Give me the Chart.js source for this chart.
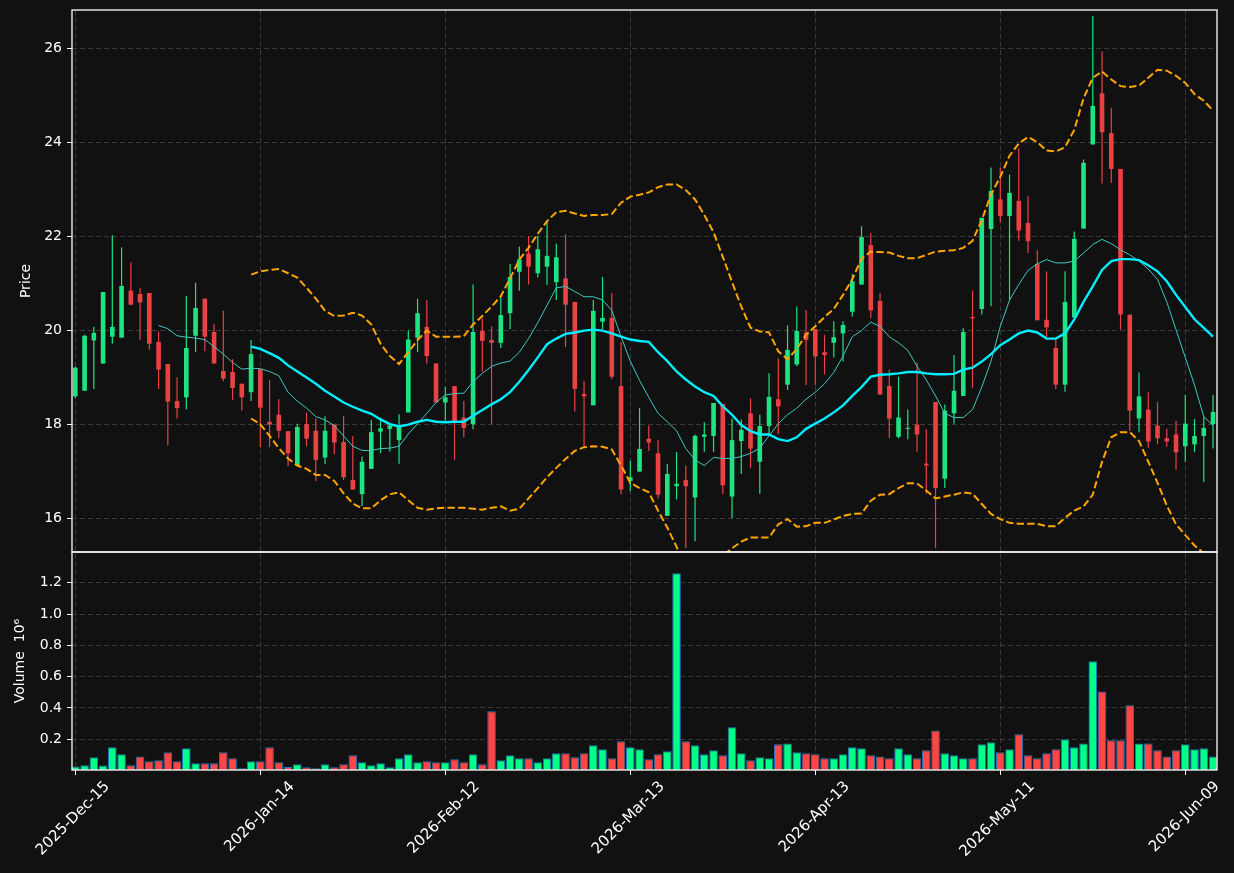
<!DOCTYPE html>
<html>
<head>
<meta charset="utf-8">
<script src="https://cdn.jsdelivr.net/npm/chart.js@4.4.1/dist/chart.umd.min.js"></script>
<style>
  html, body { margin: 0; background: #111111; }
  #wrap { width: 1234px; height: 873px; position: relative; }
</style>
</head>
<body>
<div id="wrap"><canvas id="chart"></canvas></div>
<script>
// tick labels on the date axis (trading-day index -> label)
const tickIdx = [0, 20, 40, 60, 80, 100, 120];
const tickLabels = ['2025-Dec-15', '2026-Jan-14', '2026-Feb-12', '2026-Mar-13', '2026-Apr-13', '2026-May-11', '2026-Jun-09'];
const priceTicks = [16, 18, 20, 22, 24, 26];
const volumeTicks = [0.2, 0.4, 0.6, 0.8, 1.0, 1.2];

// OHLC, one value per trading day (124 days)
const opens = [18.59, 18.71, 19.78, 19.29, 19.86, 19.84, 20.84, 20.77, 20.79, 19.75,
  19.28, 18.49, 18.57, 19.88, 20.67, 19.96, 19.13, 19.11, 18.86, 18.68,
  19.17, 18.05, 18.20, 17.85, 17.12, 18.00, 17.86, 17.29, 17.99, 17.62,
  16.81, 16.51, 17.05, 17.84, 17.90, 17.66, 18.25, 19.84, 20.07, 19.29,
  18.46, 18.81, 18.14, 18.00, 19.98, 19.79, 19.73, 20.36, 21.24, 21.63,
  21.21, 21.35, 21.02, 21.10, 20.60, 18.64, 18.40, 20.18, 20.26, 18.81,
  16.79, 16.99, 17.69, 17.38, 16.05, 16.68, 16.81, 16.44, 17.73, 17.75,
  18.43, 16.46, 17.64, 18.23, 17.20, 17.96, 18.53, 18.84, 19.27, 19.95,
  20.02, 19.53, 19.73, 19.93, 20.39, 20.97, 21.81, 20.62, 18.81, 17.73,
  17.90, 17.99, 17.16, 18.47, 16.84, 18.23, 18.60, 20.28, 20.45, 22.15,
  22.78, 22.43, 22.75, 22.28, 21.41, 20.22, 19.62, 18.84, 20.27, 22.16,
  23.95, 25.04, 24.19, 23.43, 20.33, 18.12, 18.31, 17.97, 17.70, 17.78,
  17.53, 17.57, 17.75, 18.00];
const highs = [19.22, 19.90, 20.07, 20.81, 22.02, 21.76, 21.44, 20.89, 20.79, 19.97,
  19.28, 19.00, 20.73, 21.01, 20.67, 20.13, 20.41, 19.38, 18.86, 19.79,
  19.17, 18.94, 18.53, 17.85, 18.01, 18.25, 18.12, 18.17, 18.01, 18.17,
  17.75, 17.31, 18.09, 18.14, 18.01, 18.21, 19.99, 20.67, 20.64, 19.29,
  18.79, 18.81, 18.49, 20.97, 20.25, 20.08, 20.73, 21.41, 21.78, 22.00,
  22.01, 22.30, 21.84, 22.04, 20.60, 18.92, 20.64, 21.13, 20.79, 19.75,
  17.22, 18.34, 17.97, 17.66, 17.16, 17.41, 17.12, 17.78, 18.04, 18.45,
  18.43, 18.12, 18.10, 18.55, 18.20, 19.08, 19.40, 20.10, 20.50, 20.43,
  20.02, 19.90, 20.19, 20.19, 21.19, 22.21, 22.06, 20.79, 19.16, 19.01,
  18.31, 19.31, 17.89, 18.47, 18.42, 19.47, 20.04, 20.84, 22.39, 23.46,
  23.46, 23.31, 23.87, 22.85, 21.70, 21.25, 19.79, 21.25, 22.10, 23.63,
  26.68, 25.93, 24.73, 23.43, 20.33, 19.10, 18.68, 18.47, 17.90, 18.07,
  18.62, 18.11, 18.16, 18.62];
const lows = [18.56, 18.71, 18.75, 19.29, 19.71, 19.84, 20.54, 19.79, 19.58, 18.75,
  17.55, 18.12, 18.31, 19.53, 19.55, 19.29, 18.91, 18.51, 18.29, 18.49,
  17.51, 17.51, 17.70, 17.11, 17.12, 17.53, 16.79, 17.15, 17.36, 16.81,
  16.61, 16.26, 17.05, 17.38, 17.42, 17.16, 18.25, 19.53, 19.29, 18.46,
  18.07, 17.24, 17.72, 17.89, 19.12, 18.00, 19.62, 20.02, 20.84, 20.97,
  21.12, 20.96, 20.64, 19.64, 18.27, 17.53, 18.40, 20.02, 18.96, 16.51,
  16.57, 16.99, 17.43, 16.42, 16.05, 16.40, 15.36, 15.51, 17.41, 17.41,
  16.51, 16.00, 16.94, 17.07, 16.52, 17.78, 17.79, 18.73, 19.23, 18.83,
  18.83, 19.06, 19.42, 19.33, 20.29, 20.97, 20.25, 18.63, 17.70, 17.70,
  17.68, 17.41, 16.52, 15.36, 16.64, 18.01, 18.60, 18.77, 20.33, 20.51,
  22.29, 20.64, 21.90, 21.64, 20.21, 19.80, 18.75, 18.69, 20.27, 22.16,
  23.95, 23.12, 23.13, 20.01, 17.86, 17.83, 17.49, 17.57, 17.52, 17.03,
  17.20, 17.40, 16.77, 17.48];
const closes = [19.20, 19.88, 19.94, 20.81, 20.07, 20.94, 20.54, 20.59, 19.71, 19.16,
  18.48, 18.34, 19.62, 20.47, 19.86, 19.29, 18.97, 18.77, 18.57, 19.49,
  18.35, 17.99, 17.86, 17.38, 17.94, 17.69, 17.24, 17.86, 17.61, 16.87,
  16.61, 17.20, 17.83, 17.91, 17.97, 17.97, 19.80, 20.36, 19.45, 18.46,
  18.57, 18.05, 17.92, 19.96, 19.77, 19.73, 20.32, 21.13, 21.50, 21.35,
  21.72, 21.58, 21.55, 20.54, 18.75, 18.59, 20.41, 20.26, 19.01, 16.61,
  16.87, 17.47, 17.61, 16.50, 16.94, 16.73, 16.68, 17.75, 17.78, 18.45,
  16.70, 17.66, 17.88, 17.48, 17.96, 18.58, 18.38, 19.58, 19.98, 19.79,
  19.44, 19.47, 19.85, 20.11, 21.04, 21.98, 20.42, 18.63, 18.12, 18.14,
  17.92, 17.78, 17.12, 16.64, 18.29, 18.71, 19.96, 20.25, 22.39, 22.96,
  22.43, 22.92, 22.12, 21.89, 20.21, 20.06, 18.84, 20.60, 21.94, 23.56,
  24.77, 24.21, 23.43, 20.33, 18.29, 18.59, 17.63, 17.70, 17.63, 17.40,
  18.01, 17.75, 17.92, 18.26];
// volume in millions
const volumes = [0.026, 0.034, 0.085, 0.032, 0.149, 0.104, 0.034, 0.091, 0.060, 0.066,
  0.117, 0.060, 0.143, 0.047, 0.047, 0.047, 0.117, 0.079, 0.015, 0.060,
  0.060, 0.149, 0.053, 0.023, 0.040, 0.021, 0.015, 0.040, 0.021, 0.040,
  0.098, 0.053, 0.034, 0.047, 0.021, 0.079, 0.104, 0.053, 0.060, 0.053,
  0.053, 0.072, 0.053, 0.104, 0.040, 0.379, 0.066, 0.098, 0.079, 0.079,
  0.053, 0.079, 0.111, 0.111, 0.085, 0.111, 0.162, 0.136, 0.079, 0.187,
  0.149, 0.136, 0.072, 0.104, 0.123, 1.260, 0.187, 0.162, 0.104, 0.130,
  0.098, 0.277, 0.111, 0.066, 0.085, 0.079, 0.168, 0.174, 0.117, 0.111,
  0.104, 0.079, 0.079, 0.104, 0.149, 0.143, 0.098, 0.091, 0.079, 0.143,
  0.104, 0.079, 0.130, 0.257, 0.111, 0.098, 0.079, 0.079, 0.168, 0.181,
  0.117, 0.136, 0.232, 0.098, 0.079, 0.111, 0.136, 0.200, 0.149, 0.174,
  0.698, 0.506, 0.194, 0.194, 0.417, 0.174, 0.174, 0.130, 0.091, 0.130,
  0.168, 0.136, 0.143, 0.091];

// moving averages and bands; each starts at its own day index
const ma10Start = 9;
const ma10 = [20.10, 20.03, 19.88, 19.85, 19.83, 19.80, 19.65, 19.49, 19.31, 19.17,
  19.19, 19.18, 19.12, 19.03, 18.68, 18.49, 18.34, 18.16, 18.09, 17.97,
  17.75, 17.53, 17.44, 17.44, 17.48, 17.49, 17.53, 17.79, 18.01, 18.23,
  18.46, 18.62, 18.65, 18.66, 18.90, 19.08, 19.23, 19.30, 19.34, 19.53,
  19.82, 20.16, 20.53, 20.90, 20.93, 20.82, 20.71, 20.71, 20.64, 20.42,
  19.86, 19.34, 18.93, 18.57, 18.23, 18.05, 17.86, 17.48, 17.24, 17.12,
  17.29, 17.27, 17.27, 17.31, 17.38, 17.49, 17.75, 18.01, 18.20, 18.34,
  18.53, 18.68, 18.86, 19.10, 19.45, 19.86, 19.99, 20.17, 20.08, 19.86,
  19.73, 19.57, 19.23, 18.94, 18.60, 18.23, 18.14, 18.14, 18.31, 18.79,
  19.34, 20.08, 20.64, 20.97, 21.27, 21.41, 21.50, 21.43, 21.43, 21.47,
  21.64, 21.82, 21.93, 21.84, 21.71, 21.60, 21.47, 21.30, 21.08, 20.60,
  20.01, 19.42, 18.83, 18.16, 17.97];
const bandStart = 19;
const ma20 = [19.65, 19.60, 19.51, 19.41, 19.25, 19.12, 18.99, 18.86, 18.71, 18.59,
  18.46, 18.37, 18.29, 18.22, 18.10, 18.00, 17.95, 17.99, 18.05, 18.09,
  18.05, 18.04, 18.05, 18.05, 18.18, 18.30, 18.42, 18.53, 18.68, 18.90,
  19.15, 19.42, 19.70, 19.82, 19.92, 19.95, 19.99, 20.01, 19.99, 19.93,
  19.86, 19.80, 19.77, 19.75, 19.53, 19.34, 19.12, 18.95, 18.80, 18.68,
  18.60, 18.38, 18.20, 17.98, 17.85, 17.78, 17.78, 17.68, 17.64, 17.72,
  17.90, 18.01, 18.12, 18.25, 18.40, 18.60, 18.79, 19.01, 19.05, 19.06,
  19.08, 19.11, 19.11, 19.08, 19.06, 19.06, 19.07, 19.16, 19.20, 19.33,
  19.49, 19.68, 19.80, 19.93, 19.99, 19.95, 19.82, 19.82, 19.93, 20.23,
  20.60, 20.93, 21.28, 21.47, 21.51, 21.51, 21.49, 21.38, 21.25, 21.04,
  20.75, 20.49, 20.23, 20.05, 19.86];
const bandUpper = [21.18, 21.25, 21.28, 21.30, 21.21, 21.12, 20.90, 20.67, 20.41, 20.30,
  20.31, 20.37, 20.31, 20.12, 19.71, 19.45, 19.28, 19.53, 19.79, 19.99,
  19.86, 19.86, 19.86, 19.87, 20.12, 20.30, 20.50, 20.72, 21.10, 21.50,
  21.75, 22.05, 22.32, 22.51, 22.54, 22.48, 22.43, 22.45, 22.45, 22.47,
  22.71, 22.84, 22.88, 22.93, 23.04, 23.10, 23.10, 22.98, 22.78, 22.45,
  22.08, 21.56, 21.02, 20.50, 20.05, 19.97, 19.95, 19.55, 19.38, 19.60,
  19.90, 20.08, 20.28, 20.45, 20.75, 21.08, 21.52, 21.67, 21.66, 21.65,
  21.58, 21.53, 21.53, 21.60, 21.67, 21.69, 21.70, 21.75, 21.90, 22.34,
  22.89, 23.26, 23.71, 23.97, 24.11, 24.00, 23.82, 23.80, 23.89, 24.26,
  24.93, 25.37, 25.50, 25.33, 25.19, 25.17, 25.20, 25.37, 25.54, 25.52,
  25.41, 25.26, 25.02, 24.88, 24.67];
const bandLower = [18.12, 18.00, 17.75, 17.49, 17.27, 17.12, 17.05, 16.92, 16.92, 16.79,
  16.53, 16.31, 16.21, 16.21, 16.38, 16.51, 16.55, 16.38, 16.22, 16.18,
  16.21, 16.22, 16.22, 16.22, 16.20, 16.18, 16.22, 16.25, 16.16, 16.20,
  16.42, 16.64, 16.87, 17.07, 17.26, 17.43, 17.51, 17.53, 17.52, 17.46,
  17.12, 16.75, 16.64, 16.55, 16.16, 15.80, 15.39, 14.92, 14.82, 14.91,
  15.12, 15.20, 15.36, 15.50, 15.59, 15.59, 15.59, 15.87, 15.98, 15.82,
  15.83, 15.90, 15.90, 15.97, 16.05, 16.09, 16.10, 16.37, 16.50, 16.51,
  16.64, 16.74, 16.74, 16.59, 16.42, 16.46, 16.50, 16.55, 16.52, 16.30,
  16.09, 15.98, 15.90, 15.88, 15.88, 15.88, 15.83, 15.83, 16.01, 16.16,
  16.25, 16.50, 17.20, 17.72, 17.83, 17.83, 17.64, 17.20, 16.75, 16.27,
  15.87, 15.64, 15.42, 15.25, 15.05];

const UP = '#1ee383', DOWN = '#ea4143';
const VOL_UP = '#00ff88', VOL_DOWN = '#ff4646';
const GRID = '#3a3a3a';
const FONT = 'DejaVu Sans';

const isUp = i => closes[i] >= opens[i];
const series = (start, vals) => vals.map((v, k) => ({ x: start + k, y: v }));

const wickData = highs.map((h, i) => ({ x: i, y: [lows[i], h] }));
const bodyData = opens.map((o, i) => ({ x: i, y: [o, closes[i]] }));
const volData = volumes.map((v, i) => ({ x: i, y: v }));

// keep each dataset inside its own panel
const panelClip = {
  id: 'panelClip',
  beforeDatasetDraw(chart, args) {
    const ys = chart.scales[args.meta.yAxisID];
    const xs = chart.scales.x;
    const c = chart.ctx;
    c.save();
    c.beginPath();
    c.rect(xs.left, ys.top, xs.right - xs.left, ys.bottom - ys.top);
    c.clip();
  },
  afterDatasetDraw(chart) {
    chart.ctx.restore();
  }
};

// white frame round both panels
const frames = {
  id: 'frames',
  afterDraw(chart) {
    const c = chart.ctx;
    const xs = chart.scales.x;
    c.save();
    c.strokeStyle = '#ffffff';
    c.lineWidth = 1.3;
    ['y', 'yv'].forEach(id => {
      const s = chart.scales[id];
      c.strokeRect(xs.left, s.top, xs.right - xs.left, s.bottom - s.top);
    });
    c.restore();
  }
};

const tickFont = { family: FONT, size: 14 };
const fixY = s => { s.width = 72; s.paddingTop = 0; s.paddingBottom = 0; };

new Chart(document.getElementById('chart'), {
  type: 'bar',
  data: {
    datasets: [
      {
        type: 'line', label: 'BB upper', data: series(bandStart, bandUpper), yAxisID: 'y',
        borderColor: '#ffa500', borderWidth: 2, borderDash: [7.4, 3.2], pointRadius: 0, tension: 0, order: 0
      },
      {
        type: 'line', label: 'BB lower', data: series(bandStart, bandLower), yAxisID: 'y',
        borderColor: '#ffa500', borderWidth: 2, borderDash: [7.4, 3.2], pointRadius: 0, tension: 0, order: 0
      },
      {
        type: 'line', label: 'MA20', data: series(bandStart, ma20), yAxisID: 'y',
        borderColor: '#00eeff', borderWidth: 2.4, pointRadius: 0, tension: 0, order: 0
      },
      {
        type: 'line', label: 'MA10', data: series(ma10Start, ma10), yAxisID: 'y',
        borderColor: '#3ec9c1', borderWidth: 1, pointRadius: 0, tension: 0, order: 0
      },
      {
        label: 'body', data: bodyData, yAxisID: 'y', grouped: false, order: 1,
        backgroundColor: c => isUp(c.dataIndex) ? UP : DOWN,
        borderWidth: 0, categoryPercentage: 1, barPercentage: 0.5, minBarLength: 1
      },
      {
        label: 'wick', data: wickData, yAxisID: 'y', grouped: false, order: 2,
        backgroundColor: c => isUp(c.dataIndex) ? UP : DOWN,
        borderWidth: 0, categoryPercentage: 1, barPercentage: 0.5, maxBarThickness: 1.2
      },
      {
        label: 'volume', data: volData, yAxisID: 'yv', grouped: false, order: 1,
        backgroundColor: c => isUp(c.dataIndex) ? VOL_UP : VOL_DOWN,
        borderColor: '#1f77b4', borderWidth: 1, borderSkipped: false,
        categoryPercentage: 1, barPercentage: 0.93
      }
    ]
  },
  options: {
    responsive: true,
    maintainAspectRatio: false,
    animation: false,
    layout: { padding: { top: 10, right: 17, left: 0, bottom: 0 } },
    plugins: { legend: { display: false }, tooltip: { enabled: false } },
    scales: {
      x: {
        type: 'linear', min: -0.36, max: 123.43, offset: false,
        afterBuildTicks: s => { s.ticks = tickIdx.map(v => ({ value: v })); },
        afterFit: s => { s.height = 103; },
        ticks: {
          autoSkip: false, maxRotation: 45, minRotation: 45,
          color: '#ffffff', font: { family: FONT, size: 15 }, padding: 3, labelOffset: 32,
          callback: v => tickLabels[tickIdx.indexOf(v)]
        },
        grid: { color: GRID, offset: false, tickColor: '#ffffff', tickLength: 5, tickBorderDash: [] },
        border: { display: false, dash: [5, 3] }
      },
      yv: {
        type: 'linear', position: 'left', stack: 'panels', stackWeight: 218,
        min: 0.004, max: 1.396,
        afterBuildTicks: s => { s.ticks = volumeTicks.map(v => ({ value: v })); },
        afterFit: fixY,
        ticks: { color: '#ffffff', font: tickFont, padding: 5, callback: v => v.toFixed(1) },
        grid: { color: GRID, tickColor: '#ffffff', tickLength: 5, tickBorderDash: [] },
        border: { display: false, dash: [5, 3] },
        title: { display: true, text: 'Volume  10⁶', color: '#ffffff', font: tickFont, padding: { top: 12, bottom: 0 } }
      },
      y: {
        type: 'linear', position: 'left', stack: 'panels', stackWeight: 542,
        min: 15.28, max: 26.81,
        afterBuildTicks: s => { s.ticks = priceTicks.map(v => ({ value: v })); },
        afterFit: fixY,
        ticks: { color: '#ffffff', font: tickFont, padding: 5, callback: v => String(v) },
        grid: { color: GRID, tickColor: '#ffffff', tickLength: 5, tickBorderDash: [] },
        border: { display: false, dash: [5, 3] },
        title: { display: true, text: 'Price', color: '#ffffff', font: tickFont, padding: { top: 18, bottom: 0 } }
      }
    }
  },
  plugins: [panelClip, frames]
});
</script>
</body>
</html>
